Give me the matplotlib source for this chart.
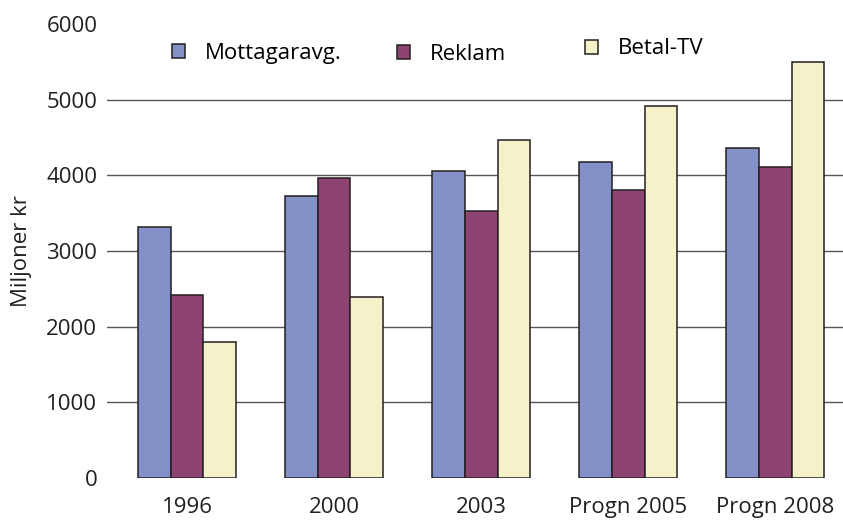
import numpy as np
import matplotlib
matplotlib.use('Agg')
import matplotlib.pyplot as plt
from matplotlib.patches import Patch

plt.rcParams['font.family'] = ['Open Sans', 'DejaVu Sans']

### Data
years = ['1996', '2000', '2003', 'Progn 2005', 'Progn 2008']
mottagaravg = [3320, 3730, 4060, 4180, 4365]
reklam = [2420, 3970, 3530, 3800, 4115]
betal_tv = [1800, 2395, 4470, 4910, 5500]
series_names = ['Mottagaravg.', 'Reklam', 'Betal-TV']
yticks = [0, 1000, 2000, 3000, 4000, 5000, 6000]

colors = ['#8490c8', '#8e4473', '#f5f1c8']
edge = '#231f20'
fs = 16

fig = plt.figure(figsize=(8.43, 5.2), dpi=100)
ax = fig.add_axes([107/843, 1-478/520, 1-107/843, (478-24)/520])

x = np.arange(len(years))
w = 0.222
for i, vals in enumerate([mottagaravg, reklam, betal_tv]):
    ax.bar(x + (i-1)*w, vals, width=w, color=colors[i], edgecolor=edge,
           linewidth=1.1, zorder=3)

ax.set_xlim(-0.544, 4.46)
ax.set_ylim(0, 6000)
ax.set_yticks(yticks)
ax.set_xticks(x)
ax.set_xticklabels(years)
ax.tick_params(axis='both', length=0, labelsize=fs, colors='#231f20')
ax.tick_params(axis='y', pad=7)
ax.tick_params(axis='x', pad=13.5)
for s in ax.spines.values():
    s.set_visible(False)

ax.yaxis.grid(True, color='#555555', linewidth=1.0, zorder=0)
gl = ax.get_ygridlines()
gl[0].set_visible(False)
gl[-1].set_visible(False)

ax.set_ylabel('Miljoner kr', fontsize=fs, color='#231f20', labelpad=10)

# legend entries are not evenly spaced in the original, so one legend per series
leg_pos = [(172, 53), (397, 54), (585, 49)]  # pixel positions of the swatches
for i in range(3):
    h = Patch(facecolor=colors[i], edgecolor=edge, linewidth=1.1, label=series_names[i])
    px, py = leg_pos[i]
    leg = ax.legend(handles=[h], frameon=False, fontsize=fs, loc='center left',
                    bbox_to_anchor=((px-107)/736, (478-py)/454), borderpad=0,
                    borderaxespad=0, handlelength=0.6, handleheight=0.6,
                    handletextpad=0.9)
    if i < 2:
        ax.add_artist(leg)

fig.savefig('out.png', dpi=100)
